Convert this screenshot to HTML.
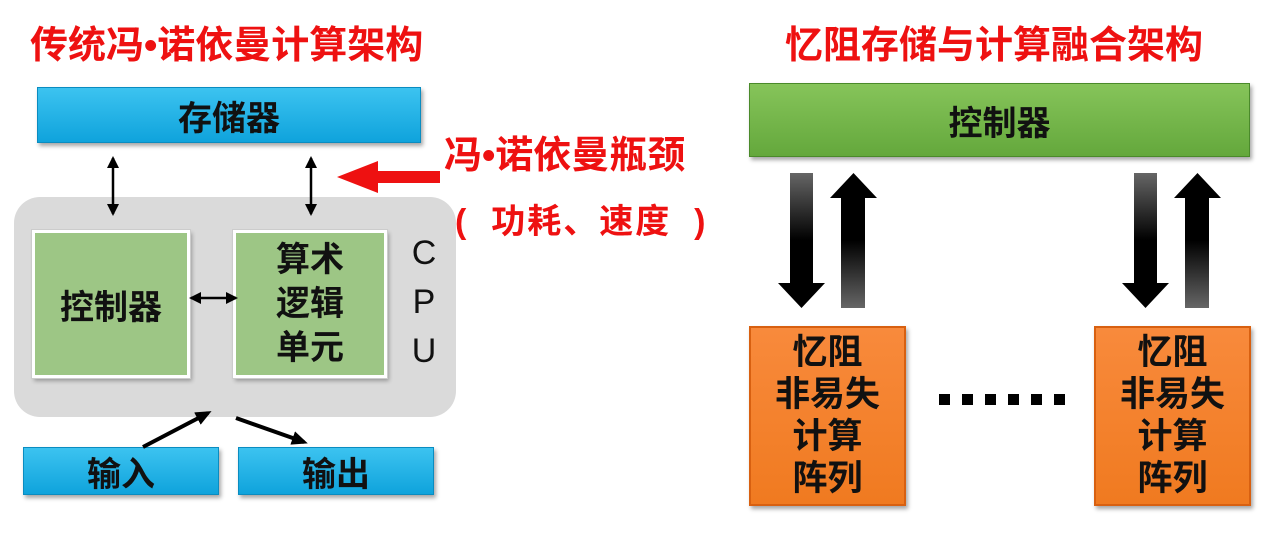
<!DOCTYPE html><html><head><meta charset="utf-8"><style>
body{margin:0;width:1269px;height:534px;background:#fff;position:relative;overflow:hidden;font-family:"Liberation Sans","Noto Sans CJK SC",sans-serif;font-weight:bold}
.a{position:absolute;box-sizing:border-box;display:flex;align-items:center;justify-content:center;text-align:center;color:#111}
.blue{background:linear-gradient(#3cc3f0,#0fa3dc);box-shadow:2px 3px 4px rgba(0,0,0,.35);border:1px solid #0a8cc0}
.green{background:#9dc685;border:3px solid #fff;box-shadow:0 0 0 1px #ccc,2px 3px 4px rgba(0,0,0,.3)}
.orange{background:linear-gradient(#f88a3c,#f07a20);border:2px solid #d86010;box-shadow:2px 3px 4px rgba(0,0,0,.35);line-height:1.2}
.t{position:absolute;color:#ee1111;font-weight:bold;white-space:nowrap}
</style></head><body>
<div class="t" style="left:30px;top:14px;font-size:38px">传统冯•诺依曼计算架构</div>
<div class="t" style="left:785px;top:14px;font-size:38px">忆阻存储与计算融合架构</div>
<div class="a blue" style="left:37px;top:87px;width:384px;height:56px;font-size:34px">存储器</div>
<div class="a" style="left:14px;top:197px;width:442px;height:220px;background:#dadada;border-radius:26px"></div>
<div class="a green" style="left:32px;top:230px;width:158px;height:148px;font-size:34px">控制器</div>
<div class="a green" style="left:233px;top:230px;width:154px;height:148px;font-size:34px;line-height:1.3">算术<br>逻辑<br>单元</div>
<div class="a" style="left:402px;top:230px;width:44px;height:145px;font-size:34px;font-weight:normal;line-height:1.45">C<br>P<br>U</div>
<div class="a blue" style="left:23px;top:447px;width:196px;height:48px;font-size:34px">输入</div>
<div class="a blue" style="left:238px;top:447px;width:196px;height:48px;font-size:34px">输出</div>
<div class="t" style="left:444px;top:124px;font-size:38px">冯•诺依曼瓶颈</div>
<div class="t" style="left:455px;top:194px;font-size:34px;letter-spacing:2px">(&nbsp;&nbsp;功耗、速度&nbsp;&nbsp;)</div>
<div class="a" style="left:749px;top:83px;width:501px;height:74px;background:linear-gradient(#86c45a,#64a83c);border:1px solid #4a8a2a;box-shadow:2px 3px 4px rgba(0,0,0,.35);font-size:34px">控制器</div>
<div class="a orange" style="left:749px;top:326px;width:157px;height:180px;font-size:35px">忆阻<br>非易失<br>计算<br>阵列</div>
<div class="a orange" style="left:1094px;top:326px;width:157px;height:180px;font-size:35px">忆阻<br>非易失<br>计算<br>阵列</div>
<svg style="position:absolute;left:0;top:0" width="1269" height="534">
<defs>
<marker id="m" markerWidth="12" markerHeight="12" refX="10" refY="6" orient="auto-start-reverse" markerUnits="userSpaceOnUse"><path d="M0,0L12,6L0,12z" fill="#000"/></marker>
<marker id="m2" markerWidth="16" markerHeight="14" refX="12" refY="7" orient="auto" markerUnits="userSpaceOnUse"><path d="M0,0L16,7L0,14z" fill="#000"/></marker>
<linearGradient id="gd" x1="0" y1="0" x2="0" y2="1"><stop offset="0" stop-color="#666"/><stop offset=".5" stop-color="#000"/></linearGradient>
<linearGradient id="gu" x1="0" y1="1" x2="0" y2="0"><stop offset="0" stop-color="#666"/><stop offset=".5" stop-color="#000"/></linearGradient>
</defs>
<g stroke="#000" stroke-width="2.5" fill="none">
<line x1="113" y1="158" x2="113" y2="214" marker-start="url(#m)" marker-end="url(#m)"/>
<line x1="311" y1="158" x2="311" y2="214" marker-start="url(#m)" marker-end="url(#m)"/>
<line x1="191" y1="298" x2="236" y2="298" marker-start="url(#m)" marker-end="url(#m)"/>
<line x1="143" y1="447" x2="208" y2="413" stroke-width="4" marker-end="url(#m2)"/>
<line x1="236" y1="418" x2="304" y2="442" stroke-width="4" marker-end="url(#m2)"/>
</g>
<path d="M440,171L378,171L378,161L337,177L378,193L378,183L440,183z" fill="#ee1111"/>
<g>
<path d="M790,173h23v110h12l-23.5,25l-23.5-25h12z" fill="url(#gd)"/>
<path d="M841,308h24v-110h12l-23.5,-25l-23.5,25h11z" fill="url(#gu)"/>
<path d="M1134,173h23v110h12l-23.5,25l-23.5-25h12z" fill="url(#gd)"/>
<path d="M1185,308h24v-110h12l-23.5,-25l-23.5,25h11z" fill="url(#gu)"/>
</g>
<g fill="#000"><rect x="939" y="394" width="11" height="11"/><rect x="962" y="394" width="11" height="11"/><rect x="985" y="394" width="11" height="11"/><rect x="1008" y="394" width="11" height="11"/><rect x="1031" y="394" width="11" height="11"/><rect x="1054" y="394" width="11" height="11"/></g>
</svg>
</body></html>
